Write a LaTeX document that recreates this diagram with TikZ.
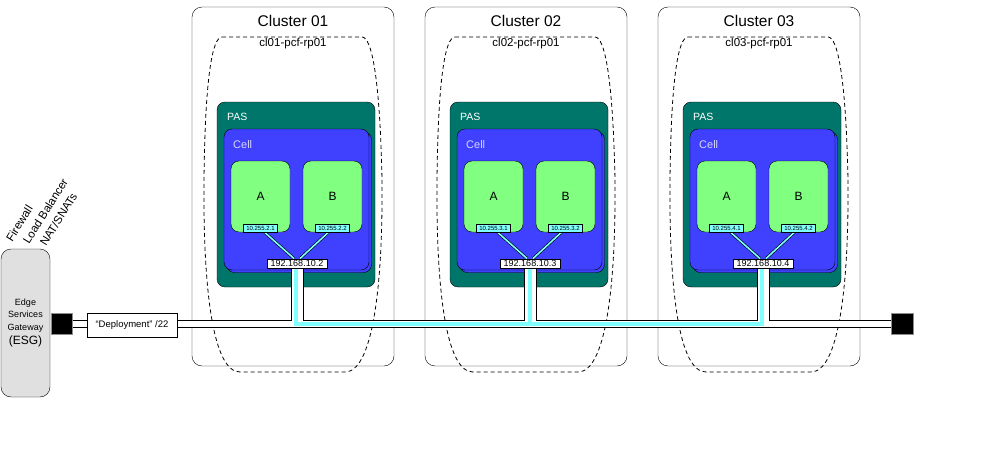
\documentclass[tikz,border=0pt]{standalone}
\usepackage{fontspec}
\setmainfont{Liberation Sans}
\usepackage{tikz}
\usetikzlibrary{shadows}

\pgfdeclarelayer{bg}
\pgfdeclarelayer{mid}
\pgfsetlayers{bg,mid,main}

\definecolor{pasgreen}{RGB}{0,118,106}
\definecolor{cellblue}{RGB}{64,64,255}
\definecolor{appgreen}{RGB}{128,255,128}
\definecolor{ipcyan}{RGB}{128,255,255}
\definecolor{esggray}{RGB}{224,224,224}
\definecolor{celltext}{RGB}{214,214,255}

\tikzset{
	cluster/.style={draw, fill=white, rounded corners=10pt, minimum width=202pt, minimum height=359pt, inner sep=0pt},
	cltitle/.style={font=\fontsize{15.5}{18}\selectfont},
	pool/.style={dash pattern=on 4pt off 3pt, line width=0.8pt},
	poollabel/.style={font=\fontsize{11.5}{13}\selectfont},
	pasbox/.style={draw, fill=pasgreen, rounded corners=8pt, minimum width=158pt, minimum height=185pt, inner sep=0pt},
	pastext/.style={text=white, anchor=west, inner sep=2pt, font=\fontsize{10.5}{12}\selectfont},
	cellbox/.style={draw, fill=cellblue, rounded corners=8pt, minimum width=145pt, minimum height=141pt, inner sep=0pt,
		copy shadow={shadow xshift=2.5pt, shadow yshift=-2.5pt}},
	celltxt/.style={text=celltext, anchor=west, inner sep=2pt, font=\fontsize{11}{12}\selectfont},
	appbox/.style={draw, fill=appgreen, rounded corners=8pt, minimum width=59pt, minimum height=71pt, font=\fontsize{12}{14}\selectfont},
	ipbox/.style={draw, fill=ipcyan, minimum width=34pt, minimum height=8pt, inner sep=0pt, font=\fontsize{6}{6}\selectfont},
	gwbox/.style={draw, fill=white, minimum width=60pt, minimum height=9.5pt, inner sep=0pt, font=\fontsize{9}{9}\selectfont},
	esgbox/.style={draw, fill=esggray, rounded corners=10pt, minimum width=49pt, minimum height=148pt, align=center,
		font=\fontsize{9}{12.8}\selectfont},
	edgetext/.style={rotate=58, anchor=north west, inner sep=0pt, align=left, font=\fontsize{11.5}{15.5}\selectfont},
	portbox/.style={draw=black!45, fill=black, minimum size=21.5pt, inner sep=0pt},
	depbox/.style={draw, fill=white, minimum width=90pt, minimum height=24pt, inner sep=0pt, font=\fontsize{9.5}{11}\selectfont},
	link/.style={draw=black, double=ipcyan, double distance=1.6pt, line width=0.6pt},
	busout/.style={line width=8pt},
	busin/.style={white, line width=6pt},
	pipeout/.style={line width=13pt},
	pipein/.style={white, line width=11pt},
	tapline/.style={ipcyan, line width=4pt}
}

\begin{document}
\begin{tikzpicture}[x=1pt, y=-1pt, line width=1pt]

	\useasboundingbox (0,0) rectangle (989,471);

	% clusters
	\foreach \n/\x/\ip in {1/0/2, 2/233/3, 3/466/4}{
		\begin{scope}[xshift=\x pt]
			\begin{pgfonlayer}{bg}
				\node[cluster] (cl\n) at (293,186.5) {};
				\node[cltitle] (clt\n) at (293,21) {Cluster 0\n};
				\draw[pool] (222,37) -- (362,37)
					.. controls (372,37) and (380,80) .. (382,180)
					.. controls (383,290) and (372,372) .. (345,372) -- (240,372)
					.. controls (213,372) and (203,290) .. (204,180)
					.. controls (205,80) and (212,37) .. (222,37) -- cycle;
				\node[poollabel] (rp\n) at (293,44) {cl0\n-pcf-rp01};
				\node[pasbox] (pas\n) at (296,194.5) {};
				\node[pastext] (pasl\n) at (225,117) {PAS};
				\node[cellbox] (cell\n) at (296.5,199.5) {};
				\node[celltxt] (celll\n) at (231,145) {Cell};
				\node[appbox] (a\n) at (260.5,196.5) {A};
				\node[appbox] (b\n) at (332.5,196.5) {B};
			\end{pgfonlayer}
			\node[ipbox, anchor=south] (ipa\n) at (a\n.south) {10.255.\ip.1};
			\node[ipbox, anchor=south] (ipb\n) at (b\n.south) {10.255.\ip.2};
			\node[gwbox] (gw\n) at (297,263.5) {192.168.10.\ip};
		\end{scope}
	}

	% edge gateway
	\begin{pgfonlayer}{bg}
		\node[esgbox] (esg) at (25.5,323) {Edge\\Services\\Gateway\\[1.5pt]{\fontsize{12}{14}\selectfont(ESG)}};
	\end{pgfonlayer}
	\node[edgetext] (edge) at (5,238) {Firewall\\\hspace*{7pt}Load Balancer\\\hspace*{14pt}NAT/SNATs};

	\node[portbox] (portL) at (61.5,323.5) {};
	\node[portbox] (portR) at (902,323.5) {};
	\node[depbox] (dep) at (132,325) {“Deployment” /22};

	% network
	\begin{pgfonlayer}{mid}
		\foreach \n in {1,2,3}{
			\draw[link] ([xshift=4pt]ipa\n.south) -- ([xshift=-3pt]gw\n.north);
			\draw[link] ([xshift=-4pt]ipb\n.south) -- ([xshift=3pt]gw\n.north);
			\coordinate (tap\n) at (gw\n.south |- portL.center);
		}
		\draw[busout] (portL) -- (portR);
		\foreach \n in {1,2,3} \draw[pipeout] (gw\n.south) -- (tap\n);
		\draw[busin] (portL) -- (portR);
		\foreach \n in {1,2,3} \draw[pipein] (gw\n.south) -- (tap\n);
		\draw[tapline] ([xshift=-1.5pt]gw1.south) -- ([xshift=-1.5pt,yshift=-0.8pt]tap1)
			-- ([xshift=-1.5pt,yshift=-0.8pt]tap3) -- ([xshift=-1.5pt]gw3.south);
		\draw[tapline] (gw2.south) -- ([yshift=-0.8pt]tap2);
	\end{pgfonlayer}

\end{tikzpicture}
\end{document}
